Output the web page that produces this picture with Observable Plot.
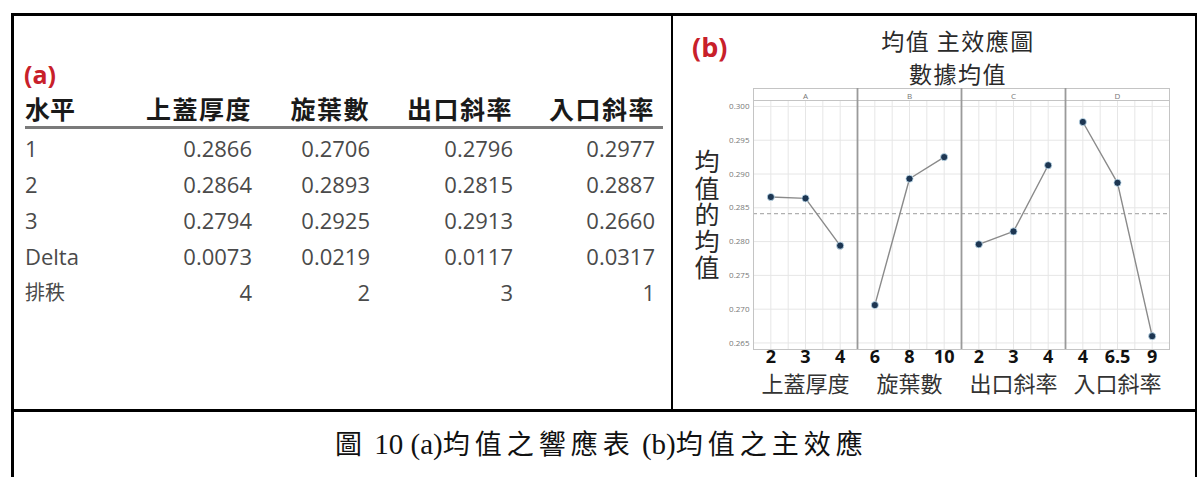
<!DOCTYPE html>
<html>
<head>
<meta charset="utf-8">
<script src="https://cdn.jsdelivr.net/npm/d3@7"></script>
<script src="https://cdn.jsdelivr.net/npm/@observablehq/plot@0.6"></script>
<style>
  html, body { margin: 0; padding: 0; background: #fff; }
  body { width: 1200px; height: 477px; position: relative; overflow: hidden; }
  .abs { position: absolute; white-space: nowrap; }
  .line { position: absolute; background: #000; }
  .cjk { font-family: "Noto Sans CJK TC", "Noto Sans CJK SC", sans-serif; }
  .num { font-family: "Open Sans", "Noto Sans", sans-serif; }
</style>
</head>
<body>
<script>
// ---------- data ----------
const factors = ["A", "B", "C", "D"];
const factorNames = ["上蓋厚度", "旋葉數", "出口斜率", "入口斜率"];
const levelsA = ["2", "3", "4"];
const levelsB = ["6", "8", "10"];
const levelsC = ["2", "3", "4"];
const levelsD = ["4", "6.5", "9"];
const meansA = [0.2866, 0.2864, 0.2794];
const meansB = [0.2706, 0.2893, 0.2925];
const meansC = [0.2796, 0.2815, 0.2913];
const meansD = [0.2977, 0.2887, 0.2660];

const tableRowLabels = ["1", "2", "3", "Delta", "排秩"];
const tableColA = ["0.2866", "0.2864", "0.2794", "0.0073", "4"];
const tableColB = ["0.2706", "0.2893", "0.2925", "0.0219", "2"];
const tableColC = ["0.2796", "0.2815", "0.2913", "0.0117", "3"];
const tableColD = ["0.2977", "0.2887", "0.2660", "0.0317", "1"];
const tableHeader = ["水平", "上蓋厚度", "旋葉數", "出口斜率", "入口斜率"];

const yTicks = [0.265, 0.270, 0.275, 0.280, 0.285, 0.290, 0.295, 0.300];
const yDomain = [0.26403, 0.30088];
const xDomain = [0.5, 3.5];
const xGrid = [1, 1.5, 2, 2.5, 3];

const chartTitle1 = "均值 主效應圖";
const chartTitle2 = "數據均值";
const yLabel = "均值的均值";
const captionParts = ["圖", " 10 (a)", "均值之響應表", " (b)", "均值之主效應"];

// ---------- helpers ----------
function el(tag, cls, style, text, parent) {
  const e = document.createElement(tag);
  if (cls) e.className = cls;
  Object.assign(e.style, style);
  if (text != null) e.textContent = text;
  (parent || document.body).appendChild(e);
  return e;
}
function hline(x, y, w, h) { el("div", "line", {left: x + "px", top: y + "px", width: w + "px", height: h + "px"}); }

// ---------- frame lines ----------
hline(11, 13, 1186, 2.5);       // top border
hline(11, 13, 2.5, 470);        // left border
hline(1194.5, 13, 2.5, 470);    // right border
hline(670.5, 13, 2, 398);       // middle divider
hline(11, 409, 1186, 2.5);      // row divider

// ---------- (a) table ----------
el("div", "abs num", {left: "24px", top: "60px", fontSize: "25px", fontWeight: "700", color: "#c8202a", lineHeight: "28px"}, "(a)");
const colRight = [252, 370, 513, 655];
const headerY = 108;
el("div", "abs cjk", {left: "25px", top: (headerY - 17) + "px", fontSize: "25px", fontWeight: "700", color: "#1a1a1a", lineHeight: "34px"}, tableHeader[0]);
tableHeader.slice(1).forEach((h, i) => {
  el("div", "abs cjk", {left: (colRight[i] - 200) + "px", width: "200px", textAlign: "right", top: (headerY - 17) + "px",
    fontSize: "25px", fontWeight: "700", color: "#1a1a1a", lineHeight: "34px", letterSpacing: "1.5px"}, h);
});
el("div", "line", {left: "25px", top: "125.5px", width: "638px", height: "3px", background: "#7a7a7a"});
const cols = [tableColA, tableColB, tableColC, tableColD];
tableRowLabels.forEach((lab, r) => {
  const cy = 148 + r * 36;
  el("div", "abs " + (/[0-9A-Za-z]/.test(lab) ? "num" : "cjk"), {left: "25px", top: (cy - 15) + "px", fontSize: lab === "排秩" ? "20px" : "22px",
    color: "#4a4a4a", lineHeight: "30px"}, lab);
  cols.forEach((col, c) => {
    el("div", "abs num", {left: (colRight[c] - 200) + "px", width: "200px", textAlign: "right", top: (cy - 15) + "px",
      fontSize: "22px", color: "#4a4a4a", lineHeight: "30px"}, col[r]);
  });
});

// ---------- (b) titles ----------
el("div", "abs num", {left: "692px", top: "32px", fontSize: "27px", fontWeight: "700", color: "#c8202a", lineHeight: "30px"}, "(b)");
el("div", "abs cjk", {left: "758px", width: "400px", textAlign: "center", top: "25px", fontSize: "23px", color: "#2a2a2a", lineHeight: "30px", letterSpacing: "1.5px"}, chartTitle1);
el("div", "abs cjk", {left: "758px", width: "400px", textAlign: "center", top: "58px", fontSize: "23px", color: "#2a2a2a", lineHeight: "30px", letterSpacing: "1.5px"}, chartTitle2);
el("div", "abs cjk", {left: "694px", top: "149px", width: "26px", fontSize: "25px", color: "#2a2a2a", lineHeight: "26px",
  writingMode: "vertical-rl", textOrientation: "upright", letterSpacing: "1.5px"}, yLabel);

// ---------- caption ----------
const cap = el("div", "abs", {left: "335px", top: "427px", color: "#111", lineHeight: "32px"});
captionParts.forEach(p => {
  const isLatin = /^[\s0-9()ab]+$/.test(p);
  el("span", "", isLatin
    ? {fontFamily: "'Liberation Serif', serif", fontSize: "29px", whiteSpace: "pre"}
    : {fontFamily: "'Noto Sans CJK TC', sans-serif", fontSize: "27px", letterSpacing: "5px"}, p, cap);
});

// ---------- chart ----------
const levels = [levelsA, levelsB, levelsC, levelsD];
const means = [meansA, meansB, meansC, meansD];
const rows = factors.flatMap((f, i) => means[i].map((m, j) => ({fx: f, idx: j + 1, mean: m, level: levels[i][j]})));
const nameRows = factors.map((f, i) => ({fx: f, name: factorNames[i]}));
const dividerRows = factors.slice(1).map(f => ({fx: f}));
const grandMean = d3.mean(rows, d => d.mean);

const chart = Plot.plot({
  width: 510,
  height: 343,
  marginLeft: 71,
  marginRight: 20,
  marginTop: 38,
  marginBottom: 56,
  style: {fontFamily: "'Open Sans', sans-serif", fontSize: "8px", color: "#777", background: "transparent", overflow: "visible"},
  fx: {domain: factors, padding: 0, axis: "top", tickSize: 0, tickPadding: 2, label: null},
  x: {domain: xDomain, axis: null},
  y: {domain: yDomain, tickFormat: ".3f", tickSize: 0, tickPadding: 4, label: null},
  marks: [
    Plot.ruleY(yTicks, {stroke: "#e6e6e6", strokeWidth: 1}),
    Plot.ruleX(xGrid, {stroke: "#e6e6e6", strokeWidth: 1}),
    Plot.ruleY([grandMean], {stroke: "#b0b0b0", strokeDasharray: "4,3", strokeWidth: 1.2}),
    Plot.frame({stroke: "#c4c4c4", insetTop: -12}),
    Plot.ruleY([yDomain[1]], {stroke: "#c4c4c4"}),
    Plot.ruleX(dividerRows, {fx: "fx", x: () => xDomain[0], stroke: "#9a9a9a", strokeWidth: 1.8, insetTop: -12}),
    Plot.line(rows, {fx: "fx", x: "idx", y: "mean", stroke: "#8a8a8a", strokeWidth: 1.4}),
    Plot.dot(rows, {fx: "fx", x: "idx", y: "mean", r: 3.6, fill: "#1d3652", stroke: "#c5e2f3", strokeWidth: 0.8}),
    Plot.text(rows, {fx: "fx", x: "idx", text: "level", frameAnchor: "bottom", dy: 13, fontSize: 18, fontWeight: 700,
      fill: "#111", fontFamily: "'Open Sans', sans-serif"}),
    Plot.text(nameRows, {fx: "fx", text: "name", frameAnchor: "bottom", dy: 42, fontSize: 22, fill: "#333",
      fontFamily: "'Noto Sans CJK TC', sans-serif"})
  ]
});
chart.style.position = "absolute";
chart.style.left = "680px";
chart.style.top = "62px";
document.body.appendChild(chart);
</script>
</body>
</html>
